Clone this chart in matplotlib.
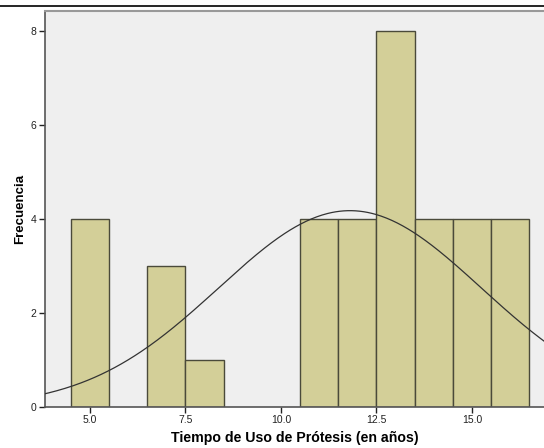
import numpy as np
import matplotlib
matplotlib.use('Agg')
import matplotlib.pyplot as plt
from matplotlib.lines import Line2D

# histogram bins (center, count), width 1 year
centers = [5, 7, 8, 11, 12, 13, 14, 15, 16]
counts = [4, 3, 1, 4, 4, 8, 4, 4, 4]
xticks = [5.0, 7.5, 10.0, 12.5, 15.0]
yticks = [0, 2, 4, 6, 8]

plt.rcParams['font.family'] = ['Liberation Sans', 'DejaVu Sans']

fig = plt.figure(figsize=(5.44, 4.48), dpi=100)
ax = fig.add_axes([45/544, 1 - 407/448, 1 - 45/544, (407 - 11)/448])
ax.set_facecolor('#efefef')

ax.bar(centers, counts, width=1.0, color='#d3cf98', edgecolor='#4a4a3a', linewidth=1.0, zorder=2)

# normal curve fitted to the binned data
c = np.array(centers, float)
n = np.array(counts, float)
N = n.sum()
mu = (c * n).sum() / N
sd = np.sqrt(((c - mu) ** 2 * n).sum() / (N - 1))
xs = np.linspace(3.5, 17.5, 400)
ys = N * 1.0 / (sd * np.sqrt(2 * np.pi)) * np.exp(-0.5 * ((xs - mu) / sd) ** 2)
ax.plot(xs, ys, color='#333333', linewidth=0.9, zorder=3)

ax.set_xlim(3.822, 16.885)
ax.set_ylim(0, 8.426)
ax.set_xticks(xticks)
ax.set_xticklabels(['%.1f' % t for t in xticks])
ax.set_yticks(yticks)
ax.tick_params(axis='both', labelsize=7.5, colors='#222222', length=4, width=1, pad=2)

for s in ['left', 'bottom']:
    ax.spines[s].set_color('#555555')
    ax.spines[s].set_linewidth(1.2)
ax.spines['top'].set_color('#999999')
ax.spines['top'].set_linewidth(1.5)
ax.spines['right'].set_visible(False)

ax.set_xlabel('Tiempo de Uso de Prótesis (en años)', fontsize=10.2, fontweight='bold', labelpad=4)
ax.set_ylabel('Frecuencia', fontsize=9.5, fontweight='bold', labelpad=3)

fig.add_artist(Line2D([0, 1], [1 - 6/448, 1 - 6/448], color='black', linewidth=1.2))

fig.savefig('out.png', dpi=100)
